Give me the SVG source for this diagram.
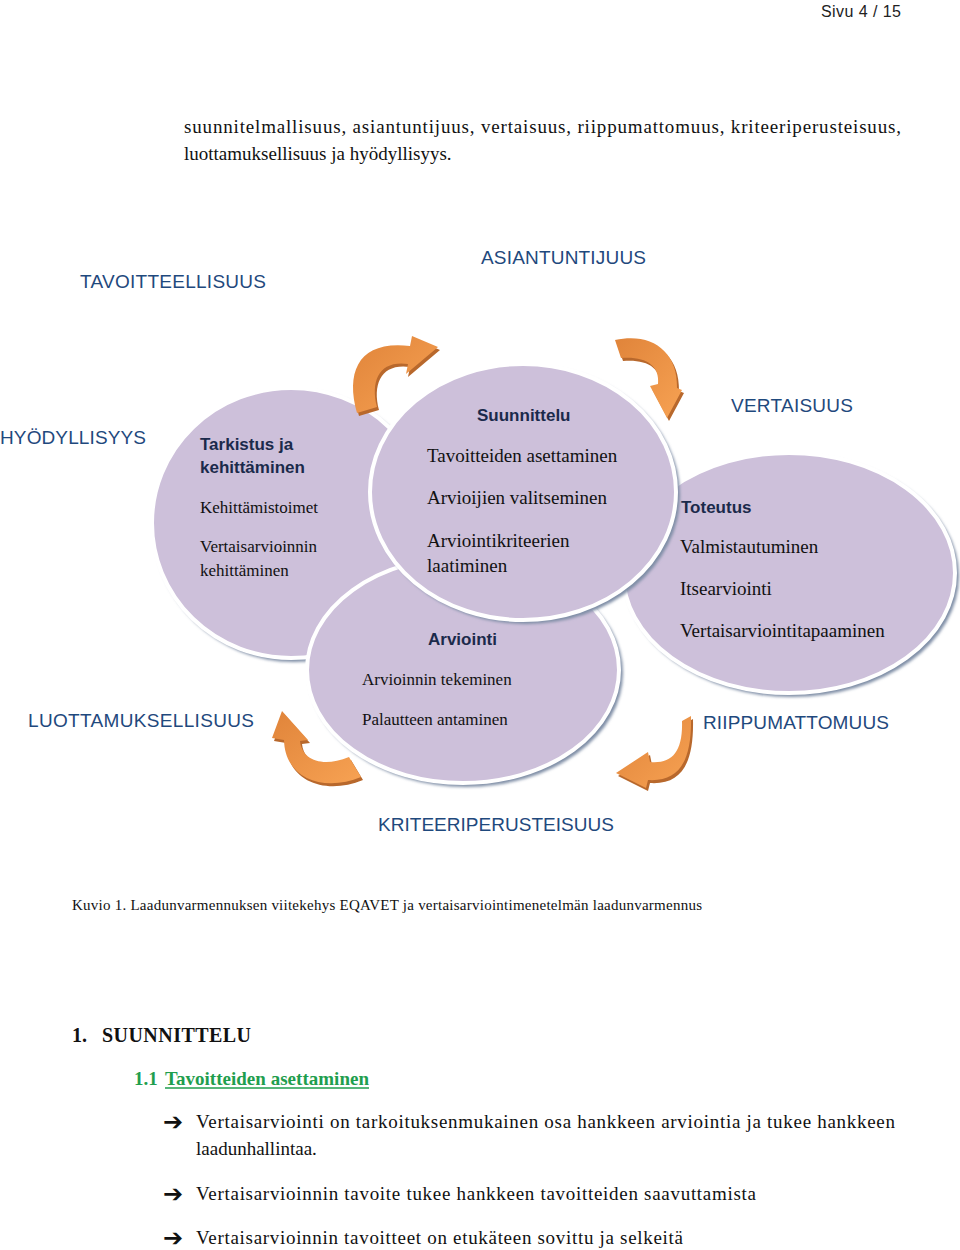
<svg xmlns="http://www.w3.org/2000/svg" width="960" height="1250" viewBox="0 0 960 1250">
<defs>
<style>
.bg{fill:#ffffff}
.page{font-family:"Liberation Sans",Arial,sans-serif;font-size:16px;fill:#222}
.body{font-family:"Liberation Serif","Times New Roman",serif;font-size:19px;fill:#111}
.lab{font-family:"Liberation Sans",Arial,sans-serif;font-size:19px;fill:#1f497d}
.hd{font-family:"Liberation Sans",Arial,sans-serif;font-size:17px;font-weight:bold;fill:#1b2a4b}
.it{font-family:"Liberation Serif","Times New Roman",serif;font-size:17px;fill:#111}
.itl{font-family:"Liberation Serif","Times New Roman",serif;font-size:19px;fill:#111}
.cap{font-family:"Liberation Serif","Times New Roman",serif;font-size:15px;fill:#111}
.h1{font-family:"Liberation Serif","Times New Roman",serif;font-size:20px;font-weight:bold;fill:#111}
.h2{font-family:"Liberation Serif","Times New Roman",serif;font-size:19px;font-weight:bold;fill:#1f9e4e}
.bul{font-family:"DejaVu Sans",sans-serif;font-size:24px;font-weight:bold;fill:#111}
.circ{fill:#cdc0da;stroke:#ffffff;stroke-width:4}
.shad{fill:#7f8ea6;filter:url(#blur)}
.arr{fill:url(#og)}
.arrs{fill:#b8682c}
</style>
<filter id="blur" x="-10%" y="-10%" width="120%" height="120%"><feGaussianBlur stdDeviation="1.6"/></filter>
<linearGradient id="og" x1="0" y1="0" x2="1" y2="1">
<stop offset="0" stop-color="#e0843a"/>
<stop offset="1" stop-color="#f7a253"/>
</linearGradient>
</defs>
<rect class="bg" x="0" y="0" width="960" height="1250"/>

<text class="page" x="821" y="17" textLength="80">Sivu 4 / 15</text>
<text class="body" x="184" y="133" textLength="717">suunnitelmallisuus, asiantuntijuus, vertaisuus, riippumattomuus, kriteeriperusteisuus,</text>
<text class="body" x="184" y="160">luottamuksellisuus ja hyödyllisyys.</text>

<g id="labels">
<text class="lab" x="80" y="288" textLength="186">TAVOITTEELLISUUS</text>
<text class="lab" x="481" y="264" textLength="165">ASIANTUNTIJUUS</text>
<text class="lab" x="0" y="444" textLength="146">HYÖDYLLISYYS</text>
<text class="lab" x="731" y="412" textLength="122">VERTAISUUS</text>
<text class="lab" x="28" y="727" textLength="226">LUOTTAMUKSELLISUUS</text>
<text class="lab" x="703" y="729" textLength="186">RIIPPUMATTOMUUS</text>
<text class="lab" x="378" y="831" textLength="236">KRITEERIPERUSTEISUUS</text>
</g>

<g id="node-tarkistus">
<ellipse class="shad" cx="294" cy="526" rx="140" ry="136"/>
<ellipse class="circ" cx="291" cy="523" rx="139" ry="135"/>
<text class="hd" x="200" y="450">Tarkistus ja</text>
<text class="hd" x="200" y="473">kehittäminen</text>
<text class="it" x="200" y="513">Kehittämistoimet</text>
<text class="it" x="200" y="552">Vertaisarvioinnin</text>
<text class="it" x="200" y="576">kehittäminen</text>
</g>

<g id="node-toteutus">
<ellipse class="shad" cx="792" cy="576" rx="167" ry="121"/>
<ellipse class="circ" cx="789" cy="573" rx="166" ry="120"/>
<text class="hd" x="681" y="513">Toteutus</text>
<text class="itl" x="680" y="553">Valmistautuminen</text>
<text class="itl" x="680" y="595">Itsearviointi</text>
<text class="itl" x="680" y="637">Vertaisarviointitapaaminen</text>
</g>

<g id="node-arviointi">
<ellipse class="shad" cx="466" cy="673" rx="157" ry="114"/>
<ellipse class="circ" cx="463" cy="670" rx="156" ry="113"/>
<text class="hd" x="428" y="645">Arviointi</text>
<text class="it" x="362" y="685">Arvioinnin tekeminen</text>
<text class="it" x="362" y="725">Palautteen antaminen</text>
</g>

<g id="node-suunnittelu">
<ellipse class="shad" cx="526" cy="495" rx="154" ry="129"/>
<ellipse class="circ" cx="523" cy="492" rx="153" ry="128"/>
<text class="hd" x="477" y="421">Suunnittelu</text>
<text class="itl" x="427" y="462">Tavoitteiden asettaminen</text>
<text class="itl" x="427" y="504">Arvioijien valitseminen</text>
<text class="itl" x="427" y="547">Arviointikriteerien</text>
<text class="itl" x="427" y="572">laatiminen</text>
</g>

<g id="connectors">
<g transform="translate(2,3)">
<path class="arrs" d="M357,413 C345,370 360,340 410,346 L412,336 L438,347 L406,374 L408,364 C380,360 370,380 377,407 Z"/>
<path class="arrs" d="M615,340 C650,332 678,350 677,388 L682,390 L667,418 L650,386 L658,384 C660,365 645,356 621,358 Z"/>
<path class="arrs" d="M282,711 L308,740 L300,741 C302,760 322,768 349,757 L361,777 C325,792 285,780 284,740 L272,738 Z"/>
<path class="arrs" d="M682,721 L691,716 C692,760 680,782 648,780 L646,788 L616,773 L648,752 L650,762 C672,764 683,752 682,721 Z"/>
</g>
<path class="arr" d="M357,413 C345,370 360,340 410,346 L412,336 L438,347 L406,374 L408,364 C380,360 370,380 377,407 Z"/>
<path class="arr" d="M615,340 C650,332 678,350 677,388 L682,390 L667,418 L650,386 L658,384 C660,365 645,356 621,358 Z"/>
<path class="arr" d="M282,711 L308,740 L300,741 C302,760 322,768 349,757 L361,777 C325,792 285,780 284,740 L272,738 Z"/>
<path class="arr" d="M682,721 L691,716 C692,760 680,782 648,780 L646,788 L616,773 L648,752 L650,762 C672,764 683,752 682,721 Z"/>
</g>

<text class="cap" x="72" y="910" textLength="630">Kuvio 1. Laadunvarmennuksen viitekehys EQAVET ja vertaisarviointimenetelmän laadunvarmennus</text>

<text class="h1" x="72" y="1042">1.</text>
<text class="h1" x="102" y="1042" textLength="149">SUUNNITTELU</text>
<text class="h2" x="134" y="1085">1.1</text>
<text class="h2" x="165" y="1085" textLength="204">Tavoitteiden asettaminen</text>
<line x1="165" y1="1088" x2="369" y2="1088" stroke="#1f9e4e" stroke-width="1.5"/>

<text class="bul" x="163" y="1130" textLength="20">➔</text>
<text class="body" x="196" y="1128" textLength="699">Vertaisarviointi on tarkoituksenmukainen osa hankkeen arviointia ja tukee hankkeen</text>
<text class="body" x="196" y="1155">laadunhallintaa.</text>
<text class="bul" x="163" y="1202" textLength="20">➔</text>
<text class="body" x="196" y="1200" textLength="560">Vertaisarvioinnin tavoite tukee hankkeen tavoitteiden saavuttamista</text>
<text class="bul" x="163" y="1246" textLength="20">➔</text>
<text class="body" x="196" y="1244" textLength="487">Vertaisarvioinnin tavoitteet on etukäteen sovittu ja selkeitä</text>
</svg>
